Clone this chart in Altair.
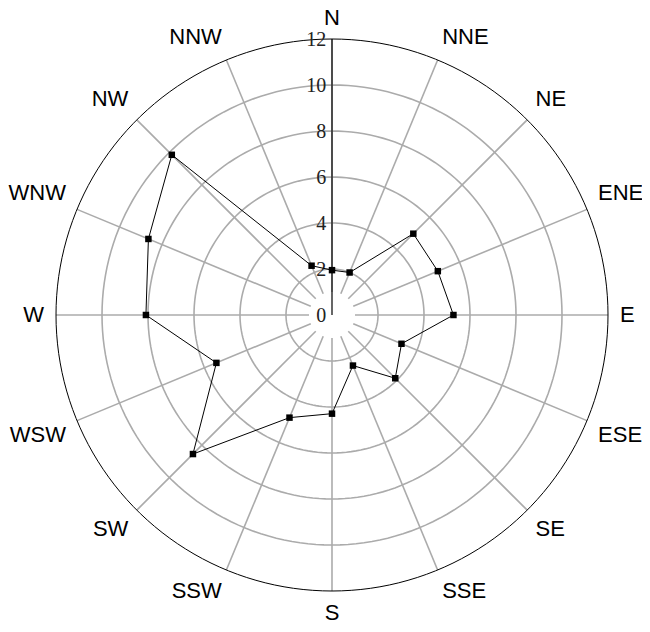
import altair as alt
import pandas as pd

# ---- data ----
directions = ["N", "NNE", "NE", "ENE", "E", "ESE", "SE", "SSE",
              "S", "SSW", "SW", "WSW", "W", "WNW", "NW", "NNW"]
values = [1.95, 2.0, 5.0, 4.98, 5.28, 3.27, 3.89, 2.38,
          4.29, 4.83, 8.55, 5.44, 8.09, 8.64, 9.85, 2.32]
ring_values = [2, 4, 6, 8, 10, 12]
tick_labels = ["0", "2", "4", "6", "8", "10", "12"]

# ---- layout ----
UNIT = 23.0          # px per radial unit
PAD_TOP = 8
CX, CY = 324, 307 - PAD_TOP   # centre inside plot area
W, H = 634, 616 - PAD_TOP
RMAX = max(ring_values)
SPOKE_START = 1.0
LABEL_R = 12.52

xs = alt.Scale(domain=[-CX / UNIT, (W - CX) / UNIT], nice=False, zero=False)
ys = alt.Scale(domain=[-(H - CY) / UNIT, CY / UNIT], nice=False, zero=False)


def X(f):
    return alt.X(f, type="quantitative", scale=xs, axis=None)


def Y(f):
    return alt.Y(f, type="quantitative", scale=ys, axis=None)


step = 360.0 / len(directions)
df = pd.DataFrame({"dir": directions, "value": values,
                   "deg": [i * step for i in range(len(directions))]})

rings = pd.DataFrame([(r, a) for r in ring_values for a in range(0, 362, 2)],
                     columns=["ring", "ang"])

ticks = pd.DataFrame({"label": tick_labels,
                      "v": [float(t) for t in tick_labels]})

base = alt.Chart(df).transform_calculate(
    rad="datum.deg*PI/180",
).transform_calculate(
    x="datum.value*sin(datum.rad)",
    y="datum.value*cos(datum.rad)",
    s="sin(datum.rad)",
    c="cos(datum.rad)",
)

ring_base = alt.Chart(rings).transform_calculate(
    x="datum.ring*sin(datum.ang*PI/180)",
    y="datum.ring*cos(datum.ang*PI/180)",
)

grid_rings = ring_base.transform_filter(f"datum.ring < {RMAX}").mark_line(
    color="#ababab", strokeWidth=1.6
).encode(x=X("x"), y=Y("y"), detail="ring:N", order="ang:Q")

outer_ring = ring_base.transform_filter(f"datum.ring == {RMAX}").mark_line(
    color="black", strokeWidth=1
).encode(x=X("x"), y=Y("y"), detail="ring:N", order="ang:Q")

spokes = base.transform_calculate(
    x0=f"{SPOKE_START}*datum.s", y0=f"{SPOKE_START}*datum.c",
    x1=f"{RMAX}*datum.s", y1=f"{RMAX}*datum.c",
).mark_rule(color="#ababab", strokeWidth=1.6).encode(
    x=X("x0"), y=Y("y0"), x2="x1:Q", y2="y1:Q"
)

axis_line = alt.Chart(ticks).mark_rule(color="black", strokeWidth=1.2).encode(
    x=alt.X(datum=0, scale=xs, axis=None),
    y=alt.Y("min(v):Q", scale=ys, axis=None),
    y2="max(v):Q",
)

tick_text = alt.Chart(ticks).transform_calculate(tx="-0.25").mark_text(
    align="right", baseline="middle", font="Liberation Serif",
    fontSize=20, color="#222", dy=1
).encode(x=X("tx"), y=Y("v"), text="label:N")

data_line = base.mark_line(
    color="black", strokeWidth=1, interpolate="linear-closed"
).encode(x=X("x"), y=Y("y"), order="deg:Q")

data_pts = base.mark_point(
    shape="square", filled=True, size=42, color="black", opacity=1
).encode(x=X("x"), y=Y("y"))

label_layers = []
for al, acond in [("left", "datum.s > 0.01"), ("right", "datum.s < -0.01"),
                  ("center", "abs(datum.s) <= 0.01")]:
    for bl, bcond in [("bottom", "datum.c > 0.01"), ("top", "datum.c < -0.01"),
                      ("middle", "abs(datum.c) <= 0.01")]:
        shift = 3 if (al == "center" and bl == "bottom") else 0
        label_layers.append(
            base.transform_filter(f"({acond}) && ({bcond})").transform_calculate(
                lx=f"{LABEL_R}*datum.s", ly=f"{LABEL_R}*datum.c"
            ).mark_text(
                align=al, baseline=bl, font="Liberation Sans", fontSize=22,
                color="black", dy=shift
            ).encode(x=X("lx"), y=Y("ly"), text="dir:N")
        )

chart = alt.layer(
    grid_rings, spokes, outer_ring, axis_line, tick_text,
    data_line, data_pts, *label_layers
).properties(
    width=W, height=H,
    padding={"top": PAD_TOP, "left": 0, "right": 0, "bottom": 0},
    autosize=alt.AutoSizeParams(type="none"),
    background="white",
).configure_view(stroke=None)

chart.save("out.html", embed_options={"renderer": "svg", "actions": False})
